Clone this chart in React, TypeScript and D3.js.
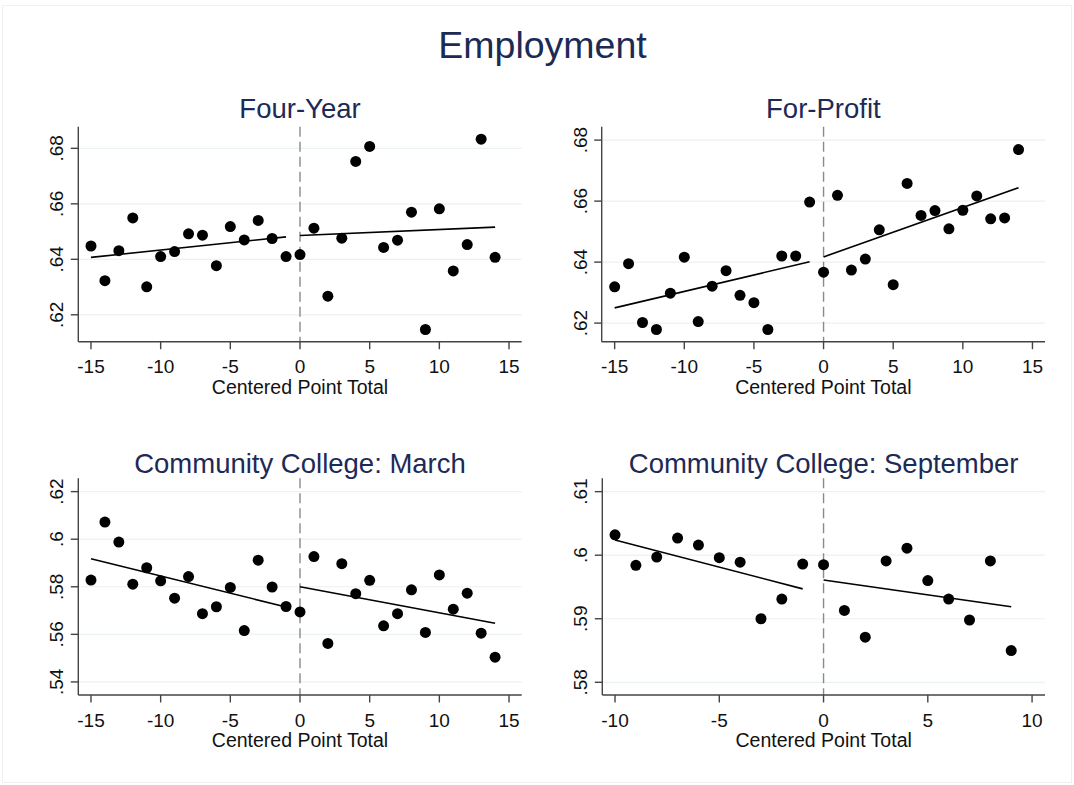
import * as d3 from "d3";

// x values (centered point total)
const xWide = [-15, -14, -13, -12, -11, -10, -9, -8, -7, -6, -5, -4, -3, -2, -1, 0, 1, 2, 3, 4, 5, 6, 7, 8, 9, 10, 11, 12, 13, 14];
const xNarrow = [-10, -9, -8, -7, -6, -5, -4, -3, -2, -1, 0, 1, 2, 3, 4, 5, 6, 7, 8, 9];

// binned means
const fourYearY = [0.6448, 0.6323, 0.6431, 0.6549, 0.6301, 0.641, 0.6428, 0.6492, 0.6487, 0.6377, 0.6518, 0.647, 0.654, 0.6475, 0.641,
  0.6417, 0.6512, 0.6267, 0.6476, 0.6753, 0.6807, 0.6443, 0.6469, 0.657, 0.6147, 0.6582, 0.6358, 0.6453, 0.6833, 0.6407];
const forProfitY = [0.6319, 0.6395, 0.6202, 0.6179, 0.6298, 0.6416, 0.6205, 0.6321, 0.6372, 0.6291, 0.6267, 0.6179, 0.642, 0.642, 0.6597,
  0.6367, 0.6619, 0.6374, 0.641, 0.6506, 0.6326, 0.6658, 0.6553, 0.6569, 0.6509, 0.657, 0.6617, 0.6542, 0.6545, 0.6769];
const ccMarchY = [0.5828, 0.6072, 0.5988, 0.5811, 0.588, 0.5825, 0.5752, 0.5843, 0.5687, 0.5716, 0.5797, 0.5616, 0.5912, 0.5799, 0.5717,
  0.5694, 0.5927, 0.5562, 0.5897, 0.5771, 0.5827, 0.5636, 0.5687, 0.5787, 0.5608, 0.585, 0.5706, 0.5773, 0.5605, 0.5504];
const ccSeptY = [0.6032, 0.5984, 0.5997, 0.6027, 0.6016, 0.5996, 0.5989, 0.59, 0.5931, 0.5986,
  0.5985, 0.5913, 0.5871, 0.5991, 0.6011, 0.596, 0.5931, 0.5898, 0.5991, 0.585];

// linear fit ends: [x0, x1] and [y0, y1] on each side of the cutoff
const fourYearFitL = [0.6407, 0.6481];
const fourYearFitR = [0.6486, 0.6516];
const forProfitFitL = [0.625, 0.6401];
const forProfitFitR = [0.6417, 0.6644];
const ccMarchFitL = [0.5918, 0.5715];
const ccMarchFitR = [0.58, 0.5647];
const ccSeptFitL = [0.6024, 0.5947];
const ccSeptFitR = [0.5961, 0.5919];
const fitXWideL = [-15, -1];
const fitXWideR = [0, 14];
const fitXNarrowL = [-10, -1];
const fitXNarrowR = [0, 9];

// tick labels
const xTicksWide = [-15, -10, -5, 0, 5, 10, 15];
const xTicksNarrow = [-10, -5, 0, 5, 10];
const yTicksTop = [0.62, 0.64, 0.66, 0.68];
const yTicksMarch = [0.54, 0.56, 0.58, 0.6, 0.62];
const yTicksSept = [0.58, 0.59, 0.6, 0.61];

const titles = ["Four-Year", "For-Profit", "Community College: March", "Community College: September"];

const FONT = "'Liberation Sans', Arial, sans-serif";
const NAVY = "#1c2a56";
const fmtY = (v: number) => String(v).replace(/^0/, "");

const panels = [
  { title: titles[0], x: xWide, y: fourYearY, fitL: [fitXWideL, fourYearFitL], fitR: [fitXWideR, fourYearFitR],
    xTicks: xTicksWide, yTicks: yTicksTop, xDom: [-15.91, 15.91], yDom: [0.6103, 0.6878],
    left: 78.3, right: 521.7, top: 126.7, bottom: 341.7, titleY: 118.3 },
  { title: titles[1], x: xWide, y: forProfitY, fitL: [fitXWideL, forProfitFitL], fitR: [fitXWideR, forProfitFitR],
    xTicks: xTicksWide, yTicks: yTicksTop, xDom: [-15.93, 15.9], yDom: [0.6139, 0.6844],
    left: 601.7, right: 1045, top: 126.7, bottom: 341.7, titleY: 118.3 },
  { title: titles[2], x: xWide, y: ccMarchY, fitL: [fitXWideL, ccMarchFitL], fitR: [fitXWideR, ccMarchFitR],
    xTicks: xTicksWide, yTicks: yTicksMarch, xDom: [-15.91, 15.91], yDom: [0.5345, 0.6256],
    left: 78.3, right: 521.7, top: 478.3, bottom: 695, titleY: 473.3 },
  { title: titles[3], x: xNarrow, y: ccSeptY, fitL: [fitXNarrowL, ccSeptFitL], fitR: [fitXNarrowR, ccSeptFitR],
    xTicks: xTicksNarrow, yTicks: yTicksSept, xDom: [-10.61, 10.62], yDom: [0.578, 0.6121],
    left: 602.3, right: 1045, top: 478.3, bottom: 695, titleY: 473.3 },
];

const Panel = ({ p }: { p: (typeof panels)[number] }) => {
  const xs = d3.scaleLinear().domain(p.xDom).range([p.left, p.right]);
  const ys = d3.scaleLinear().domain(p.yDom).range([p.bottom, p.top]);
  const line = d3.line<[number, number]>().x(d => xs(d[0])).y(d => ys(d[1]));
  const seg = (f: number[][]) => line([[f[0][0], f[1][0]], [f[0][1], f[1][1]]] as [number, number][]) || "";
  const cx = (p.left + p.right) / 2;
  return (
    <g>
      {/* gridlines */}
      {p.yTicks.map(t => (
        <line key={"g" + t} x1={p.left} x2={p.right} y1={ys(t)} y2={ys(t)} stroke="#eaf2f3" strokeWidth={1.2} />
      ))}
      {/* cutoff */}
      <line x1={xs(0)} x2={xs(0)} y1={p.top} y2={p.bottom} stroke="#8a8a8a" strokeWidth={1.4} strokeDasharray="10 5" />
      {/* points */}
      {p.y.map((v, i) => (
        <circle key={i} cx={xs(p.x[i])} cy={ys(v)} r={5.5} fill="#000" />
      ))}
      <path d={seg(p.fitL)} stroke="#000" strokeWidth={1.6} fill="none" />
      <path d={seg(p.fitR)} stroke="#000" strokeWidth={1.6} fill="none" />
      {/* axes */}
      <line x1={p.left} x2={p.left} y1={p.top} y2={p.bottom} stroke="#444" strokeWidth={1.4} />
      <line x1={p.left} x2={p.right} y1={p.bottom} y2={p.bottom} stroke="#444" strokeWidth={1.4} />
      {p.yTicks.map(t => (
        <g key={"y" + t}>
          <line x1={p.left - 7.5} x2={p.left} y1={ys(t)} y2={ys(t)} stroke="#444" strokeWidth={1.4} />
          <text transform={`translate(${p.left - 15},${ys(t)}) rotate(-90)`} textAnchor="middle"
            fontSize={19} fontFamily={FONT} fill="#111">{fmtY(t)}</text>
        </g>
      ))}
      {p.xTicks.map(t => (
        <g key={"x" + t}>
          <line x1={xs(t)} x2={xs(t)} y1={p.bottom} y2={p.bottom + 7.5} stroke="#444" strokeWidth={1.4} />
          <text x={xs(t)} y={p.bottom + 31.7} textAnchor="middle" fontSize={19} fontFamily={FONT} fill="#111">{t}</text>
        </g>
      ))}
      <text x={cx} y={p.bottom + 52.3} textAnchor="middle" fontSize={19.5} fontFamily={FONT} fill="#111">Centered Point Total</text>
      <text x={cx} y={p.titleY} textAnchor="middle" fontSize={27.5} fontFamily={FONT} fill={NAVY}>{p.title}</text>
    </g>
  );
};

export default function App() {
  return (
    <svg width={1074} height={785} style={{ position: "absolute", left: 0, top: 0, background: "#fff" }}>
      <rect x={0} y={0} width={1074} height={785} fill="#fff" />
      <rect x={2.5} y={5.5} width={1069} height={777} fill="none" stroke="#f0f0f0" strokeWidth={1} />
      <text x={542.5} y={58.3} textAnchor="middle" fontSize={37.5} fontFamily={FONT} fill={NAVY}>Employment</text>
      {panels.map(p => <Panel key={p.title} p={p} />)}
    </svg>
  );
}
